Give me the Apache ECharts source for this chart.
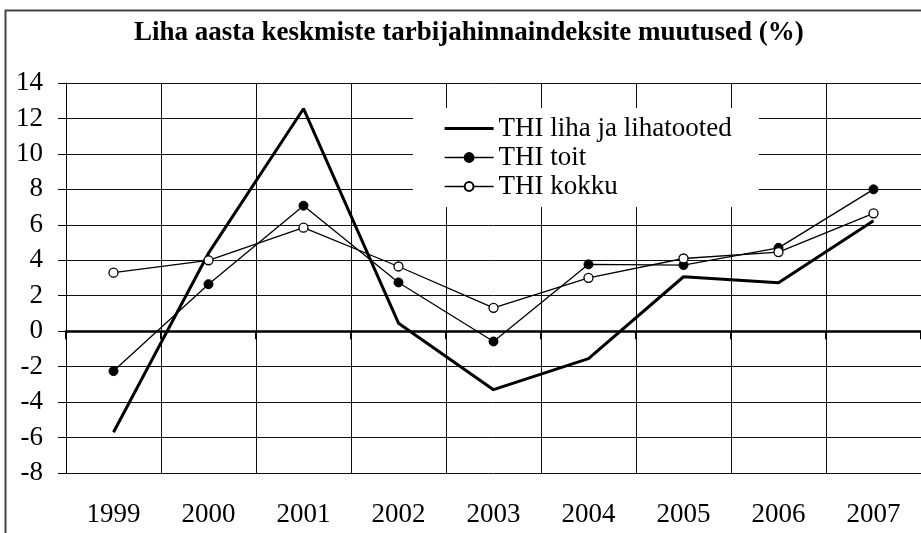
<!DOCTYPE html>
<html>
<head>
<meta charset="utf-8">
<script src="https://cdn.jsdelivr.net/npm/echarts@6/dist/echarts.min.js"></script>
<style>
  html, body { margin: 0; padding: 0; background: #fff; }
  #chart { width: 921px; height: 533px; }
</style>
</head>
<body>
<div id="chart"></div>
<script>
// andmed
const years = ['1999', '2000', '2001', '2002', '2003', '2004', '2005', '2006', '2007'];
const lihaValues = [-5.7, 4.4, 12.55, 0.45, -3.3, -1.55, 3.07, 2.73, 6.23];
const toitValues = [-2.25, 2.65, 7.08, 2.75, -0.58, 3.77, 3.73, 4.7, 8.0];
const kokkuValues = [3.3, 4.0, 5.84, 3.65, 1.32, 3.01, 4.1, 4.46, 6.65];
const seriesNames = ['THI liha ja lihatooted', 'THI toit', 'THI kokku'];

const FONT = 'Liberation Serif';

const chart = echarts.init(document.getElementById('chart'));

const option = {
  backgroundColor: '#fff',
  animation: false,
  title: {
    text: 'Liha aasta keskmiste tarbijahinnaindeksite muutused (%)',
    left: 134,
    top: 20,
    padding: 0,
    textStyle: {
      fontFamily: FONT,
      fontWeight: 'bold',
      fontSize: 27,
      color: '#000'
    }
  },
  graphic: [{
    type: 'rect',
    shape: { x: 5.5, y: 10.5, width: 1000, height: 600 },
    style: { fill: 'none', stroke: '#444', lineWidth: 2 },
    silent: true
  }],
  legend: {
    orient: 'vertical',
    left: 413,
    top: 108,
    padding: [7, 27, 7, 30],
    itemGap: 2,
    itemWidth: 49,
    itemHeight: 11,
    backgroundColor: '#fff',
    data: [
      {
        name: seriesNames[0],
        itemStyle: { color: 'rgba(0,0,0,0)', borderWidth: 0 },
        lineStyle: { width: 3.2, color: '#000' }
      },
      { name: seriesNames[1], lineStyle: { width: 1.3, color: '#000' } },
      { name: seriesNames[2], lineStyle: { width: 1.3, color: '#000' } }
    ],
    textStyle: {
      fontFamily: FONT,
      fontSize: 27,
      color: '#000'
    }
  },
  grid: {
    left: 66,
    right: 0,
    top: 83,
    bottom: 60,
    containLabel: false
  },
  xAxis: [{
    type: 'category',
    data: years,
    position: 'bottom',
    axisLine: { show: false, onZero: false },
    axisTick: { show: false },
    axisLabel: {
      fontFamily: FONT,
      fontSize: 27,
      color: '#000',
      margin: 28
    },
    splitLine: {
      show: true,
      lineStyle: { color: '#111', width: 1 }
    }
  }, {
    // nulljoon koos kriipsudega
    type: 'category',
    data: years,
    position: 'top',
    axisLine: {
      show: true,
      onZero: true,
      lineStyle: { color: '#000', width: 2.7 }
    },
    axisTick: {
      show: true,
      inside: true,
      length: 8,
      lineStyle: { color: '#000', width: 2 }
    },
    axisLabel: { show: false },
    splitLine: { show: false }
  }],
  yAxis: {
    type: 'value',
    min: -8,
    max: 14,
    interval: 2,
    axisLine: { show: true, lineStyle: { color: '#000', width: 1 } },
    axisTick: { show: true, length: 8, lineStyle: { color: '#000', width: 1 } },
    axisLabel: {
      fontFamily: FONT,
      fontSize: 27,
      color: '#000',
      margin: 23
    },
    splitLine: {
      show: true,
      lineStyle: { color: '#111', width: 1 }
    }
  },
  series: [{
    name: seriesNames[0],
    type: 'line',
    xAxisIndex: 0,
    data: lihaValues,
    symbol: 'none',
    lineStyle: { color: '#000', width: 3 },
    itemStyle: { color: '#000' },
    z: 3
  }, {
    name: seriesNames[1],
    type: 'line',
    xAxisIndex: 0,
    data: toitValues,
    symbol: 'circle',
    symbolSize: 9,
    lineStyle: { color: '#000', width: 1.3 },
    itemStyle: { color: '#000', borderColor: '#000', borderWidth: 1 },
    z: 4
  }, {
    name: seriesNames[2],
    type: 'line',
    xAxisIndex: 0,
    data: kokkuValues,
    symbol: 'circle',
    symbolSize: 9,
    lineStyle: { color: '#000', width: 1.3 },
    itemStyle: { color: '#fff', borderColor: '#000', borderWidth: 1.3 },
    z: 5
  }]
};

chart.setOption(option);
</script>
</body>
</html>
